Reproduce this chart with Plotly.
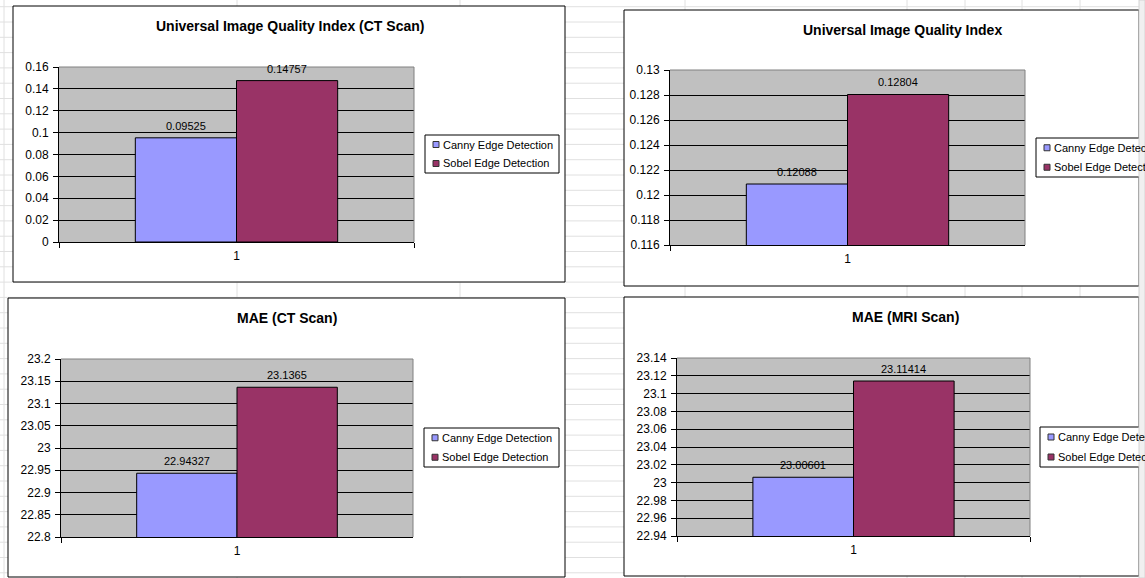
import plotly.graph_objects as go

W, H = 1145, 578
FONT = "Arial, 'Liberation Sans', sans-serif"

# ---------------- data ----------------
series_names = ["Canny Edge Detection", "Sobel Edge Detection"]
series_colors = ["#9999FF", "#993366"]
categories = ["1"]

chart_titles = [
    "Universal Image Quality Index (CT Scan)",
    "Universal Image Quality Index",
    "MAE (CT Scan)",
    "MAE (MRI Scan)",
]

uiqi_ct = [0.09525, 0.14757]
uiqi_mri = [0.12088, 0.12804]
mae_ct = [22.94327, 23.1365]
mae_mri = [23.00601, 23.11414]

ticks_uiqi_ct = ["0", "0.02", "0.04", "0.06", "0.08", "0.1", "0.12", "0.14", "0.16"]
ticks_uiqi_mri = ["0.116", "0.118", "0.12", "0.122", "0.124", "0.126", "0.128", "0.13"]
ticks_mae_ct = ["22.8", "22.85", "22.9", "22.95", "23", "23.05", "23.1", "23.15", "23.2"]
ticks_mae_mri = ["22.94", "22.96", "22.98", "23", "23.02", "23.04", "23.06", "23.08",
                 "23.1", "23.12", "23.14"]

chart_values = [uiqi_ct, uiqi_mri, mae_ct, mae_mri]
chart_ticks = [ticks_uiqi_ct, ticks_uiqi_mri, ticks_mae_ct, ticks_mae_mri]

# ---------------- layout (pixel boxes) ----------------
layouts = [
    dict(box=(13, 6, 565, 282), plot=(59, 67, 414, 242), title=(290, 26), legend=(425, 135, 559, 173)),
    dict(box=(624, 10, 1139, 286), plot=(670, 70, 1025, 245), title=(902, 30), legend=(1036, 138, 1175, 177)),
    dict(box=(8, 298, 565, 577), plot=(61, 359, 413, 537), title=(287, 318), legend=(424, 428, 559, 467)),
    dict(box=(624, 297, 1139, 576), plot=(677, 358, 1030, 536), title=(905, 317), legend=(1040, 427, 1175, 467)),
]

BARGAP = 0.43


def fx(px):
    return px / W


def fy(py):
    return 1 - py / H


fig = go.Figure()
shapes = []
annotations = []

# spreadsheet background grid
GRID = "#e0e0e0"
y = 6.7
while y < H:
    shapes.append(dict(type="line", xref="paper", yref="paper", x0=0, x1=1, y0=fy(y), y1=fy(y),
                       line=dict(color=GRID, width=1), layer="below"))
    y += 15.3
for xv in [4, 237, 460, 685, 907, 965, 1022, 1080]:
    shapes.append(dict(type="line", xref="paper", yref="paper", x0=fx(xv), x1=fx(xv), y0=0, y1=1,
                       line=dict(color=GRID, width=1), layer="below"))

layout_axes = {}
n_series = len(series_names)
bar_w = (1 - BARGAP) / n_series
for i, (lay, vals, ticks, title) in enumerate(zip(layouts, chart_values, chart_ticks, chart_titles), start=1):
    bl, bt, br, bb = lay["box"]
    pl, pt, pr, pb = lay["plot"]
    # chart area
    shapes.append(dict(type="rect", xref="paper", yref="paper", x0=fx(bl), x1=fx(br), y0=fy(bb), y1=fy(bt),
                       fillcolor="white", line=dict(color="black", width=1), layer="below"))
    # plot area
    shapes.append(dict(type="rect", xref="paper", yref="paper", x0=fx(pl), x1=fx(pr), y0=fy(pb), y1=fy(pt),
                       fillcolor="#C0C0C0", line=dict(width=0), layer="below"))
    # plot area gray top/right border
    shapes.append(dict(type="line", xref="paper", yref="paper", x0=fx(pl), x1=fx(pr), y0=fy(pt), y1=fy(pt),
                       line=dict(color="#808080", width=1), layer="above"))
    shapes.append(dict(type="line", xref="paper", yref="paper", x0=fx(pr), x1=fx(pr), y0=fy(pb), y1=fy(pt),
                       line=dict(color="#808080", width=1), layer="above"))

    tickvals = [float(t) for t in ticks]
    xa = "x" if i == 1 else f"x{i}"
    ya = "y" if i == 1 else f"y{i}"
    layout_axes["xaxis" if i == 1 else f"xaxis{i}"] = dict(
        domain=[fx(pl), fx(pr)], anchor=ya, type="category", range=[-0.5, 0.5],
        showline=True, linecolor="black", linewidth=1, ticks="outside", tickson="boundaries",
        ticklen=5, tickcolor="black", showgrid=False, zeroline=False, ticklabelstandoff=3,
        tickfont=dict(family=FONT, size=12, color="black"), fixedrange=True,
    )
    layout_axes["yaxis" if i == 1 else f"yaxis{i}"] = dict(
        domain=[fy(pb), fy(pt)], anchor=xa, range=[tickvals[0], tickvals[-1]],
        tickvals=tickvals, ticktext=ticks, showgrid=True, gridcolor="black", gridwidth=1,
        showline=True, linecolor="black", linewidth=1, ticks="outside", ticklen=5, tickcolor="black",
        zeroline=False, ticklabelstandoff=2,
        tickfont=dict(family=FONT, size=12, color="black"), fixedrange=True,
    )

    for j, (name, color, v) in enumerate(zip(series_names, series_colors, vals)):
        fig.add_trace(go.Bar(
            x=categories, y=[v], name=name, xaxis=xa, yaxis=ya,
            marker=dict(color=color, line=dict(color="black", width=1)),
            cliponaxis=True, showlegend=False, offsetgroup=str(j),
        ))
        # data label above the bar
        center = -(1 - BARGAP) / 2 + bar_w * (j + 0.5)
        annotations.append(dict(text=str(v), xref=xa, yref=ya, x=center, y=v,
                                xanchor="center", yanchor="bottom", yshift=4, showarrow=False,
                                font=dict(family=FONT, size=11, color="black")))

    # title
    annotations.append(dict(text=f"<b>{title}</b>", xref="paper", yref="paper", x=fx(lay["title"][0]),
                            y=fy(lay["title"][1]), xanchor="center", yanchor="middle", showarrow=False,
                            font=dict(family=FONT, size=14, color="black")))

    # legend box
    ll, lt, lr, lb = lay["legend"]
    shapes.append(dict(type="rect", xref="paper", yref="paper", x0=fx(ll), x1=fx(lr), y0=fy(lb), y1=fy(lt),
                       fillcolor="white", line=dict(color="black", width=1), layer="below"))
    row_h = (lb - lt) / 2
    for j, (name, color) in enumerate(zip(series_names, series_colors)):
        cy = lt + row_h * (j + 0.5)
        shapes.append(dict(type="rect", xref="paper", yref="paper", x0=fx(ll + 8), x1=fx(ll + 14),
                           y0=fy(cy + 3), y1=fy(cy - 3), fillcolor=color,
                           line=dict(color="#333333", width=1), layer="above"))
        annotations.append(dict(text=name, xref="paper", yref="paper", x=fx(ll + 16), y=fy(cy),
                                xanchor="left", yanchor="middle", showarrow=False,
                                font=dict(family=FONT, size=11, color="black")))

# scrollbar strip at right edge
shapes.append(dict(type="rect", xref="paper", yref="paper", x0=fx(1139), x1=1, y0=0, y1=1,
                   fillcolor="#f0f0f0", line=dict(color="#d4d4d4", width=1), layer="above"))

fig.update_layout(
    width=W, height=H, margin=dict(l=0, r=0, t=0, b=0, pad=0, autoexpand=False),
    paper_bgcolor="white", plot_bgcolor="rgba(0,0,0,0)",
    barmode="group", bargap=BARGAP, bargroupgap=0,
    shapes=shapes, annotations=annotations, showlegend=False,
    font=dict(family=FONT, color="black"),
    **layout_axes,
)

fig.write_html("out.html")
